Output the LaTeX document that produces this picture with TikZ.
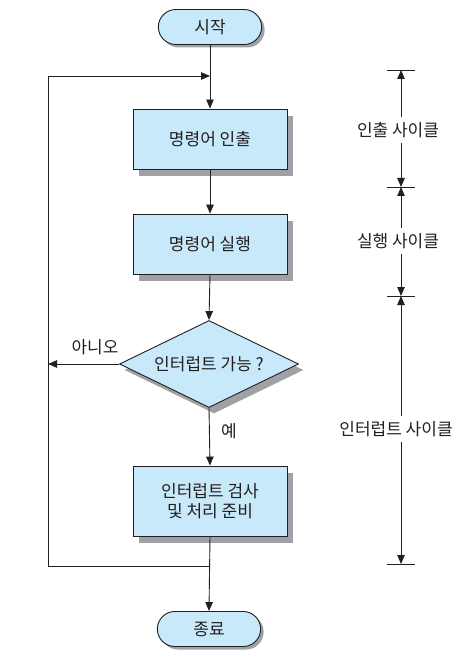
\documentclass[tikz,border=0pt]{standalone}
\usepackage{fontspec}
\setmainfont{Noto Sans CJK KR}
\usetikzlibrary{shapes.misc,shapes.geometric,shadows,arrows.meta}
\definecolor{boxfill}{RGB}{200,233,249}
\definecolor{shadowgray}{RGB}{160,161,166}
\definecolor{ink}{RGB}{35,31,32}
\tikzset{
  every node/.style={font=\fontsize{17}{20}\selectfont, text=ink},
  arr/.style={draw=ink, line width=0.9pt, -{Triangle[length=9pt,width=7.5pt]}},
  ln/.style={draw=ink, line width=0.9pt},
  procbox/.style={draw=ink, line width=0.9pt, fill=boxfill, rectangle, minimum width=154pt,
    drop shadow={shadow xshift=6pt, shadow yshift=-7pt, opacity=1, fill=shadowgray}},
  termbox/.style={draw=ink, line width=0.9pt, fill=boxfill, rounded rectangle, minimum width=110pt, minimum height=35pt,
    drop shadow={shadow xshift=3pt, shadow yshift=-3pt, opacity=1, fill=shadowgray}},
  decbox/.style={draw=ink, line width=0.9pt, fill=boxfill, diamond, aspect=2, inner sep=0pt,
    minimum width=179pt, minimum height=87pt,
    drop shadow={shadow xshift=5pt, shadow yshift=-6pt, opacity=1, fill=shadowgray}},
  cyclab/.style={inner xsep=2pt, inner ysep=5pt},
}
\begin{document}
\begin{tikzpicture}[x=1pt,y=-1pt]
\useasboundingbox (0,0) rectangle (468,660);
% flow nodes
\node[termbox] (start) at (210,27) {시작};
\node[procbox, minimum height=60pt] (b1) at (210,139) {명령어 인출};
\node[procbox, minimum height=60pt] (b2) at (210,244) {명령어 실행};
\node[decbox] (d) at (209,364) {인터럽트 가능 ?};
\node[procbox, minimum height=70pt, align=center] (b3) at (210,501) {인터럽트 검사\\및 처리 준비};
\node[termbox] (end) at (209,629) {종료};
% loop coordinates
\coordinate (lt) at (210,76);
\coordinate (ll) at (48,566);
\coordinate (dl) at (48,364);
\coordinate (bl) at (210,566);
% connectors
\draw[arr] (start.south) -- (b1.north);
\draw[arr] (ll) |- (lt);
\draw[arr] (b1.south) -- (b2.north);
\draw[arr] (b2.south) -- (d.north);
\draw[arr] (d.west) -- (dl);
\draw[arr] (d.south) -- (b3.north);
\draw[arr] (b3.south) -- (end.north);
\draw[ln] (ll) -- (bl);
% labels
\node (no) at (95,347) {아니오};
\node (yes) at (229,431) {예};
% cycle bracket
\coordinate (t1) at (401,70);
\coordinate (t2) at (401,187);
\coordinate (t3) at (401,296);
\coordinate (t4) at (401,564);
\foreach \t in {t1,t2,t3,t4} \draw[ln] ([xshift=-14pt]\t) -- ([xshift=14pt]\t);
\node[cyclab] (c1) at (398,130) {인출 사이클};
\node[cyclab] (c2) at (398,241) {실행 사이클};
\node[cyclab] (c3) at (396,429) {인터럽트 사이클};
\draw[arr] (c1.north -| t1) -- (t1);
\draw[arr] (c1.south -| t1) -- (t2);
\draw[arr] (c2.north -| t2) -- (t2);
\draw[arr] (c2.south -| t2) -- (t3);
\draw[arr] (c3.north -| t3) -- (t3);
\draw[arr] (c3.south -| t3) -- (t4);
\end{tikzpicture}
\end{document}
